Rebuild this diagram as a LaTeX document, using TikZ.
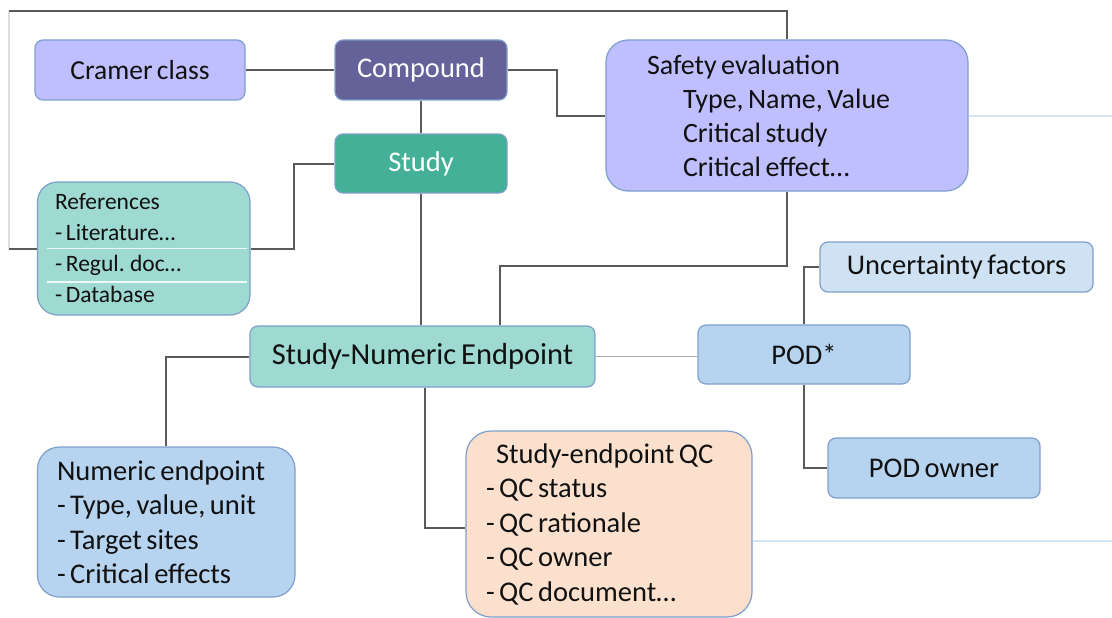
\documentclass[tikz,border=0pt]{standalone}
\usepackage{fontspec}
\setmainfont[WordSpace=0.7]{Carlito}
\newcommand{\natsp}{\spaceskip=0pt\xspaceskip=0pt\relax}
\definecolor{lav}{HTML}{BFBFFF}
\definecolor{cmpd}{HTML}{656199}
\definecolor{stdy}{HTML}{43B097}
\definecolor{tealL}{HTML}{9ED9D2}
\definecolor{blueM}{HTML}{B6D3F0}
\definecolor{blueL}{HTML}{CFE2F3}
\definecolor{peach}{HTML}{FBE0CD}
\definecolor{bord}{HTML}{7E9FCB}
\definecolor{lineg}{HTML}{5A5A5A}
\definecolor{lineL}{HTML}{ABABAB}
\definecolor{lineVL}{HTML}{DDDDDD}
\definecolor{skyline}{HTML}{D5E5F3}
\definecolor{txt}{HTML}{111111}
\tikzset{
  box/.style={draw=bord, line width=1.2pt, rounded corners=8pt, text=txt,
    font=\fontsize{28.5}{33}\selectfont, inner sep=0pt, align=center},
  listbox/.style={box, align=left, font=\fontsize{28.5}{34.5}\selectfont},
  conn/.style={draw=lineg, line width=2pt},
}
\begin{document}
\begin{tikzpicture}[x=1pt, y=-1pt]
\useasboundingbox (0,0) rectangle (1112,618);
% nodes
\node[box, fill=lav, minimum width=210, minimum height=60, font=\fontsize{27.5}{33}\selectfont] (cramer) at (140,70) {Cramer class};
\node[box, fill=cmpd, text=white, minimum width=172, minimum height=60] (compound) at (421,70) {Compound};
\node[box, fill=stdy, text=white, minimum width=172, minimum height=59] (study) at (421,163.5) {Study};
\node[listbox, fill=tealL, rounded corners=20pt, font=\fontsize{23.5}{31}\selectfont,
      text width=177.5, inner xsep=17.5, minimum height=133] (refs) at (143.75,248.5)
      {\natsp References\\- Literature\ldots\\- Regul. doc\ldots\\- Database};
\node[listbox, fill=lav, rounded corners=22pt, text width=280, inner xsep=41, minimum height=151,
      font=\fontsize{28}{34}\selectfont] (safety) at (787,115.5)
      {\natsp Safety evaluation\\\hspace*{36pt}Type, Name, Value\\\hspace*{36pt}Critical study\\\hspace*{36pt}Critical effect\ldots};
\node[box, fill=blueL, minimum width=273, minimum height=50] (unc) at (956.5,267) {Uncertainty factors};
\node[box, fill=tealL, minimum width=345, minimum height=61, font=\fontsize{30.5}{34}\selectfont] (sne) at (422.5,356.5) {Study-Numeric Endpoint};
\node[box, fill=blueM, minimum width=212, minimum height=59] (pod) at (804,354.5) {POD*};
\node[box, fill=blueM, minimum width=212, minimum height=60] (owner) at (934,468) {POD owner};
\node[listbox, fill=blueM, rounded corners=22pt, text width=218.5, inner xsep=19.5, minimum height=150] (numeric) at (166.25,522)
      {\natsp Numeric endpoint\\- Type, value, unit\\- Target sites\\- Critical effects};
\node[listbox, fill=peach, rounded corners=25pt, text width=246, inner xsep=20, minimum height=186] (qc) at (609,524)
      {\natsp\hspace*{10pt}Study-endpoint QC\\- QC status\\- QC rationale\\- QC owner\\- QC document\ldots};
% separators inside references
\draw[white!80!tealL, line width=1.2pt] ([xshift=10pt]refs.west) -- ([xshift=-4pt]refs.east);
\draw[white!80!tealL, line width=1.2pt] ([xshift=10pt,yshift=-33.5pt]refs.west) -- ([xshift=-4pt,yshift=-33.5pt]refs.east);
% coordinates
\coordinate (tl) at (9,11);
\coordinate (bl) at (9,248.5);
\coordinate (re) at (1112,0);
\coordinate (k1) at (500,266);
% connectors
\draw[draw=lineVL, line width=1.2pt] (tl) -- (bl);
\draw[conn] (bl) -- (refs.west);
\draw[conn] (tl) -| (safety.north);
\draw[conn] (cramer.east) -- (compound.west);
\draw[conn] (compound.south) -- (study.north);
\draw[conn] (refs.east) -- ++(43,0) |- (study.west);
\draw[conn] (compound.east) -- ++(49,0) |- (safety.west);
\draw[conn] (study.south) -- (study.south |- sne.north);
\draw[conn] (safety.south) |- (k1) -- (k1 |- sne.north);
\draw[conn] (sne.west) -| (numeric.north);
\draw[conn] ([xshift=2pt]sne.south) |- ([yshift=-4pt]qc.west);
\draw[draw=lineL, line width=1.6pt] (sne.east) -- (sne.east -| pod.west);
\draw[conn] (pod.north) |- (unc.west);
\draw[conn] (pod.south) |- (owner.west);
\draw[draw=skyline, line width=2pt] (safety.east) -- (safety.east -| re);
\draw[draw=skyline, line width=2pt] ([yshift=-17pt]qc.east) -- ([yshift=-17pt]qc.east -| re);
\end{tikzpicture}
\end{document}
